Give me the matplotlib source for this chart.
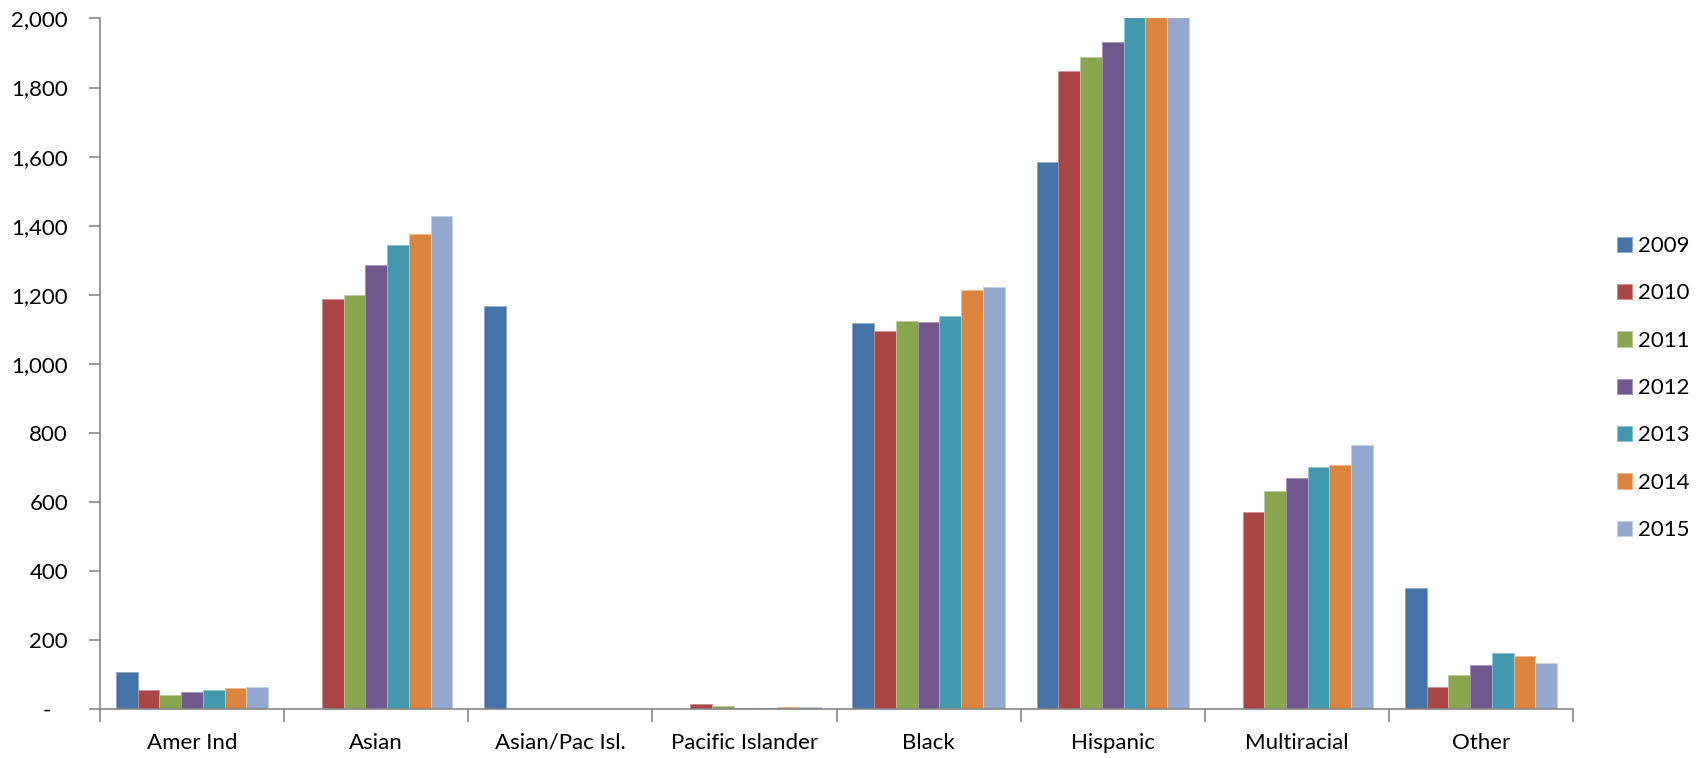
import matplotlib.pyplot as plt
import numpy as np
from matplotlib.ticker import FuncFormatter

categorias = ["Amer Ind", "Asian", "Asian/Pac Isl.", "Pacific Islander",
              "Black", "Hispanic", "Multiracial", "Other"]
anios = ["2009", "2010", "2011", "2012", "2013", "2014", "2015"]

# valores por año (uno por categoría)
v2009 = [106, 0, 1167, 0, 1118, 1585, 0, 350]
v2010 = [55, 1188, 0, 15, 1095, 1848, 572, 65]
v2011 = [41, 1200, 0, 8, 1125, 1888, 632, 98]
v2012 = [49, 1287, 0, 3, 1120, 1933, 670, 128]
v2013 = [55, 1345, 0, 4, 1138, 2050, 702, 163]
v2014 = [61, 1375, 0, 7, 1215, 2100, 706, 153]
v2015 = [63, 1427, 0, 6, 1222, 2150, 765, 134]
series = [v2009, v2010, v2011, v2012, v2013, v2014, v2015]

colores = ["#4572A7", "#AA4643", "#89A54E", "#71588F", "#4198AF", "#DB843D", "#93A9CF"]
bordes = ["#8DA9CC", "#CC8F8D", "#B5C995", "#A393BB", "#8DC4D3", "#EDB78B", "#C3D0E7"]

plt.rcParams['font.family'] = ['Lato', 'DejaVu Sans']

fig = plt.figure(figsize=(17.03, 7.58), dpi=100)
ax = fig.add_axes([0.0587, 0.0646, 0.865, 0.911])

n = len(series)
ancho = 1 / 8.47
x = np.arange(len(categorias))
for i, (vals, col, bc, an) in enumerate(zip(series, colores, bordes, anios)):
    pos = x + (i - (n - 1) / 2) * ancho
    ax.bar(pos, vals, width=ancho, color=col, edgecolor=bc, linewidth=0.6, label=an)

ax.set_xlim(-0.5, len(categorias) - 0.5)
ax.set_ylim(0, 2000)
ax.set_yticks(np.arange(0, 2001, 200))
# formato contable: el cero se muestra como un guion
ax.yaxis.set_major_formatter(FuncFormatter(lambda v, p: "-   " if v == 0 else f"{int(v):,}"))

# ticks del eje x en los límites de categoría, etiquetas centradas
ax.set_xticks(np.arange(len(categorias) + 1) - 0.5)
ax.set_xticklabels([])
ax.set_xticks(x, minor=True)
ax.set_xticklabels(categorias, minor=True)
ax.tick_params(axis="x", which="minor", length=0, pad=17, labelsize=16)
ax.tick_params(axis="x", which="major", length=9, color="#868686", width=1.2)
ax.tick_params(axis="y", length=8, color="#868686", width=1.2, labelsize=16, pad=15)

for s in ["top", "right"]:
    ax.spines[s].set_visible(False)
for s in ["left", "bottom"]:
    ax.spines[s].set_color("#868686")
    ax.spines[s].set_linewidth(1.2)

fig.legend(loc="center left", bbox_to_anchor=(0.944, 0.488), frameon=False,
           borderaxespad=0, fontsize=16, labelspacing=1.23, handlelength=0.68,
           handleheight=0.68, handletextpad=0.3)

fig.savefig("out.png", dpi=100)
